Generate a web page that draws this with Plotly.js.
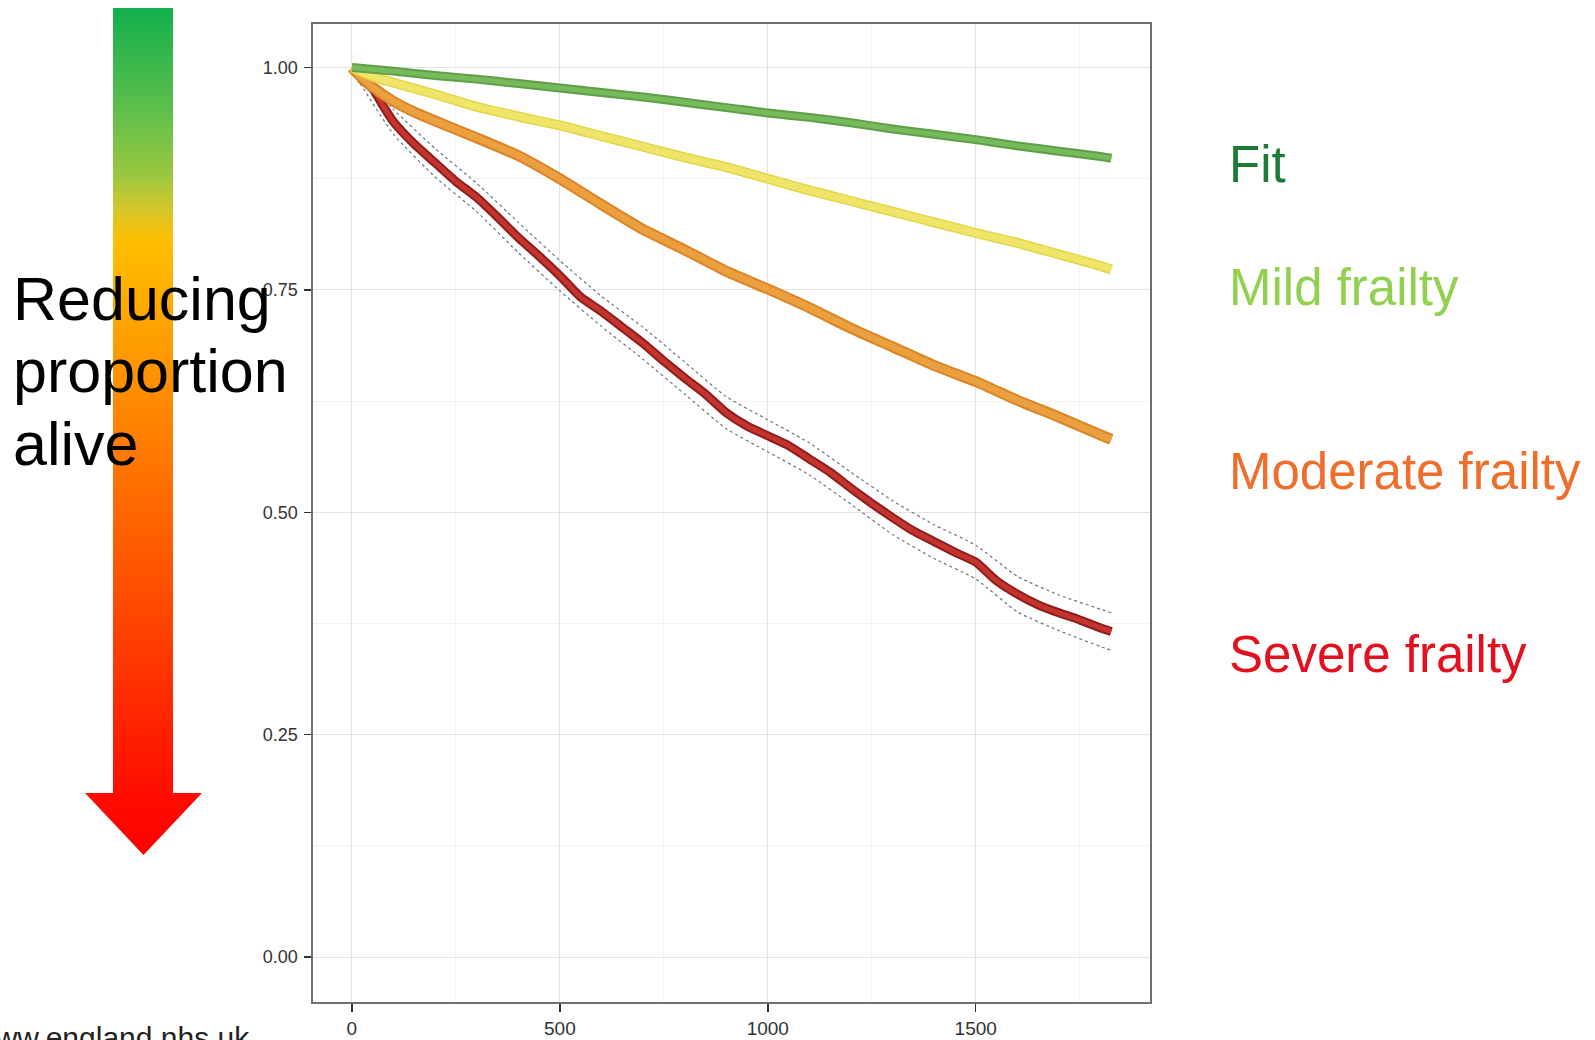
<!DOCTYPE html>
<html>
<head>
<meta charset="utf-8">
<script src="https://cdn.plot.ly/plotly-3.0.1.min.js"></script>
<style>
html,body{margin:0;padding:0;background:#fff;}
#chart{width:1595px;height:1040px;}
</style>
</head>
<body>
<div id="chart"></div>
<script>
// ---------------- data ----------------
const fitDays  = [0, 100, 200, 300, 400, 500, 600, 700, 800, 900, 1000, 1100, 1200, 1300, 1400, 1500, 1600, 1700, 1800, 1826];
const fitSurv  = [1.0, 0.996, 0.991, 0.987, 0.982, 0.977, 0.972, 0.967, 0.961, 0.955, 0.949, 0.944, 0.938, 0.931, 0.925, 0.919, 0.912, 0.906, 0.900, 0.898];

const mildDays = [0, 50, 100, 200, 300, 400, 500, 600, 700, 800, 900, 1000, 1100, 1200, 1300, 1400, 1500, 1600, 1700, 1800, 1826];
const mildSurv = [1.0, 0.990, 0.983, 0.970, 0.956, 0.945, 0.935, 0.923, 0.911, 0.899, 0.888, 0.875, 0.862, 0.850, 0.838, 0.826, 0.814, 0.803, 0.790, 0.777, 0.773];

const modDays  = [0, 25, 50, 100, 150, 200, 300, 400, 500, 600, 700, 800, 900, 1000, 1100, 1200, 1300, 1400, 1500, 1600, 1700, 1800, 1826];
const modSurv  = [1.0, 0.988, 0.978, 0.962, 0.950, 0.940, 0.921, 0.901, 0.875, 0.846, 0.818, 0.795, 0.771, 0.751, 0.730, 0.707, 0.686, 0.665, 0.647, 0.626, 0.607, 0.587, 0.582];

const sevDays  = [20, 50, 75, 100, 150, 200, 250, 300, 350, 400, 450, 500, 550, 600, 650, 700, 750, 800, 850, 900, 950, 1000, 1050, 1100, 1150, 1200, 1250, 1300, 1350, 1400, 1450, 1500, 1550, 1600, 1650, 1700, 1750, 1800, 1826];
const sevSurv  = [0.988, 0.976, 0.957, 0.939, 0.914, 0.893, 0.872, 0.854, 0.832, 0.809, 0.788, 0.766, 0.742, 0.726, 0.708, 0.690, 0.670, 0.651, 0.633, 0.612, 0.597, 0.586, 0.575, 0.560, 0.545, 0.527, 0.510, 0.494, 0.479, 0.467, 0.455, 0.444, 0.423, 0.408, 0.396, 0.387, 0.379, 0.370, 0.366];

const sevCiDays = [20, 100, 200, 300, 400, 500, 600, 700, 800, 900, 1000, 1100, 1200, 1300, 1400, 1500, 1600, 1700, 1800, 1826];
const sevUpper  = [0.994, 0.953, 0.909, 0.870, 0.826, 0.783, 0.743, 0.708, 0.669, 0.630, 0.604, 0.578, 0.545, 0.513, 0.486, 0.463, 0.428, 0.407, 0.391, 0.387];
const sevLower  = [0.982, 0.925, 0.877, 0.838, 0.792, 0.749, 0.709, 0.672, 0.633, 0.594, 0.568, 0.542, 0.509, 0.475, 0.448, 0.425, 0.388, 0.367, 0.349, 0.345];

const xTickVals = [0, 500, 1000, 1500];
const yTickVals = [0, 0.25, 0.5, 0.75, 1.0];
const groupLabels = ['Fit', 'Mild frailty', 'Moderate frailty', 'Severe frailty'];
const sideText = ['Reducing', 'proportion', 'alive'];
const footerText = 'www.england.nhs.uk';

// ---------------- layout geometry (pixels) ----------------
const FIG_W = 1595, FIG_H = 1040;
const M = {l: 313, r: 445, t: 24, b: 38};
const PW = FIG_W - M.l - M.r, PH = FIG_H - M.t - M.b;
const px = v => (v - M.l) / PW;
const py = v => (FIG_H - M.b - v) / PH;

// ---------------- traces ----------------
function band(xs, ys, outer, inner, wo, wi) {
  return [
    {x: xs, y: ys, type: 'scatter', mode: 'lines', line: {color: outer, width: wo, shape: 'spline', smoothing: 0.5}, hoverinfo: 'skip'},
    {x: xs, y: ys, type: 'scatter', mode: 'lines', line: {color: inner, width: wi, shape: 'spline', smoothing: 0.5}, hoverinfo: 'skip'}
  ];
}
const ciStyle = {color: '#66778a', width: 1.2, dash: '3px,3px', shape: 'spline', smoothing: 0.5};
const traces = [
  {x: sevCiDays, y: sevUpper, type: 'scatter', mode: 'lines', line: ciStyle, hoverinfo: 'skip'},
  {x: sevCiDays, y: sevLower, type: 'scatter', mode: 'lines', line: ciStyle, hoverinfo: 'skip'},
  ...band(sevDays, sevSurv, '#8f1d1d', '#c4342e', 9, 5),
  ...band(modDays, modSurv, '#d98628', '#eb9f3e', 11, 7),
  ...band(mildDays, mildSurv, '#e2d64a', '#f0e568', 10, 7),
  ...band(fitDays, fitSurv, '#5e9f47', '#77ba5b', 9, 5)
];

// ---------------- gradient arrow (decoration) ----------------
const AR = {x0: 85, x1: 202, y0: 8, y1: 855, barL: 113, barR: 173, headTop: 793};
const aw = AR.x1 - AR.x0, ah = AR.y1 - AR.y0;
const bl = AR.barL - AR.x0, br = AR.barR - AR.x0, ht = AR.headTop - AR.y0;
const arrowSvg =
  '<svg xmlns="http://www.w3.org/2000/svg" width="' + aw + '" height="' + ah + '" viewBox="0 0 ' + aw + ' ' + ah + '" preserveAspectRatio="none">' +
  '<defs><linearGradient id="g" x1="0" y1="0" x2="0" y2="1">' +
  '<stop offset="0" stop-color="#12b04e"/>' +
  '<stop offset="0.12" stop-color="#5ebf4b"/>' +
  '<stop offset="0.20" stop-color="#9cc83f"/>' +
  '<stop offset="0.24" stop-color="#d8c628"/>' +
  '<stop offset="0.275" stop-color="#ffbf00"/>' +
  '<stop offset="0.50" stop-color="#ff8000"/>' +
  '<stop offset="0.75" stop-color="#ff3d00"/>' +
  '<stop offset="0.93" stop-color="#ff0c00"/>' +
  '<stop offset="1" stop-color="#ff0000"/>' +
  '</linearGradient></defs>' +
  '<polygon fill="url(#g)" points="' +
  bl + ',0 ' + br + ',0 ' + br + ',' + ht + ' ' + aw + ',' + ht + ' ' + (aw / 2) + ',' + ah + ' 0,' + ht + ' ' + bl + ',' + ht + '"/></svg>';
const arrowSrc = 'data:image/svg+xml;base64,' + btoa(arrowSvg);

// ---------------- annotations ----------------
const font = 'Liberation Sans, Arial, sans-serif';
const annotations = [];
const sideBase = [320, 392, 465];
sideText.forEach((t, i) => annotations.push({
  text: t, xref: 'paper', yref: 'paper', x: px(12), y: py(sideBase[i] - 0.36 * 59),
  xanchor: 'left', yanchor: 'middle', showarrow: false, borderpad: 0,
  font: {family: font, size: 61, color: '#000000'}
}));
const labelBase = [183, 306, 490, 673];
const labelColors = ['#1f7a36', '#92d050', '#f06e2c', '#e3111f'];
groupLabels.forEach((t, i) => annotations.push({
  text: t, xref: 'paper', yref: 'paper', x: px(1228), y: py(labelBase[i] - 0.36 * 51),
  xanchor: 'left', yanchor: 'middle', showarrow: false, borderpad: 0,
  font: {family: font, size: 51, color: labelColors[i]}
}));
annotations.push({
  text: footerText, xref: 'paper', yref: 'paper', x: px(251), y: py(1037),
  xanchor: 'right', yanchor: 'middle', showarrow: false, borderpad: 0,
  font: {family: font, size: 30, color: '#222222'}
});

const layout = {
  width: FIG_W, height: FIG_H,
  margin: M,
  paper_bgcolor: '#ffffff', plot_bgcolor: '#ffffff',
  showlegend: false,
  xaxis: {
    range: [-93.5, 1919], automargin: false,
    tickvals: xTickVals, ticktext: xTickVals.map(v => String(v)),
    ticks: 'outside', ticklen: 8, tickwidth: 1.5, tickcolor: '#333333',
    ticklabelstandoff: 1,
    tickfont: {family: font, size: 19, color: '#333333'},
    showgrid: true, gridcolor: '#e3e3e3', gridwidth: 1,
    minor: {tickvals: [250, 750, 1250, 1750], showgrid: true, gridcolor: '#f3f3f3', gridwidth: 1, ticks: ''},
    zeroline: false, showline: true, mirror: true, linecolor: '#707070', linewidth: 1.6
  },
  yaxis: {
    range: [-0.0506, 1.049], automargin: false,
    tickvals: yTickVals, ticktext: yTickVals.map(v => v.toFixed(2)),
    ticks: 'outside', ticklen: 7, tickwidth: 1.5, tickcolor: '#333333',
    ticklabelstandoff: 3,
    tickfont: {family: font, size: 18, color: '#333333'},
    showgrid: true, gridcolor: '#e3e3e3', gridwidth: 1,
    minor: {tickvals: [0.125, 0.375, 0.625, 0.875], showgrid: true, gridcolor: '#f3f3f3', gridwidth: 1, ticks: ''},
    zeroline: false, showline: true, mirror: true, linecolor: '#707070', linewidth: 1.6
  },
  images: [{
    source: arrowSrc, xref: 'paper', yref: 'paper',
    x: px(AR.x0), y: py(AR.y0), sizex: aw / PW, sizey: ah / PH,
    xanchor: 'left', yanchor: 'top', sizing: 'stretch', layer: 'above'
  }],
  annotations: annotations
};

Plotly.newPlot('chart', traces, layout, {displayModeBar: false, staticPlot: true});
</script>
</body>
</html>
